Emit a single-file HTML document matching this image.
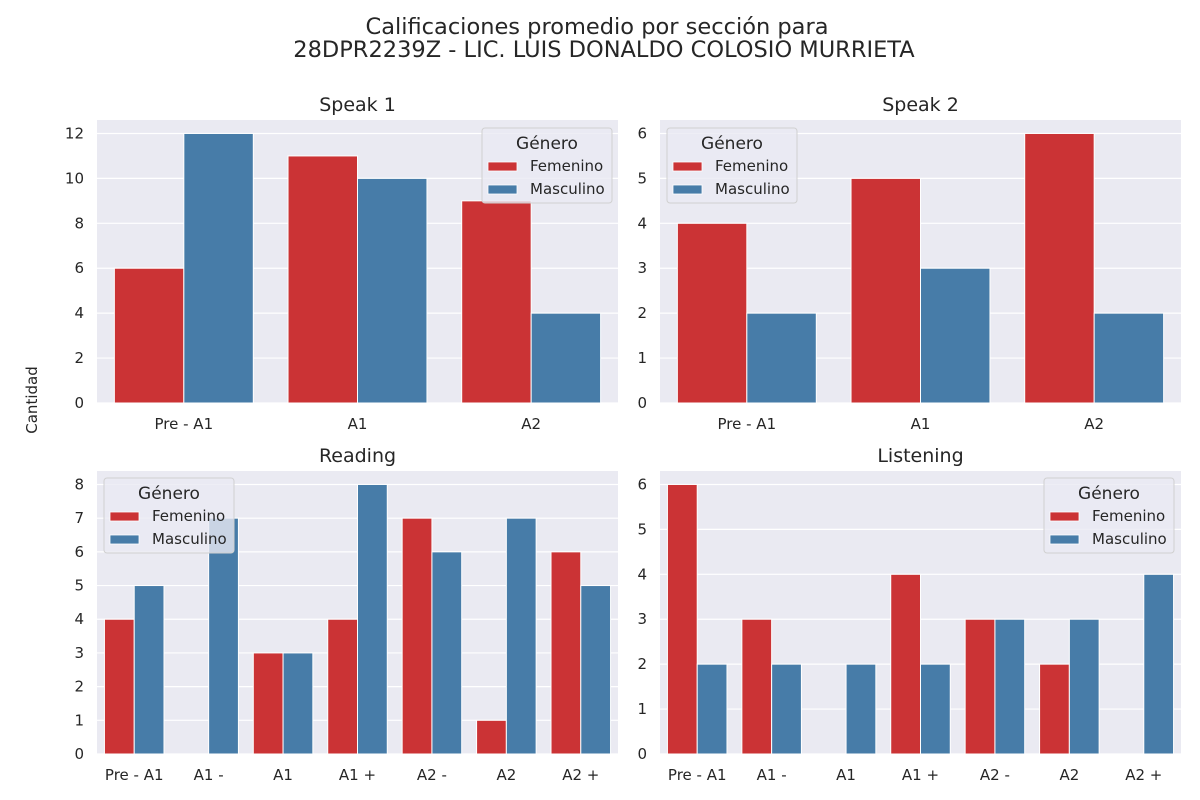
<!DOCTYPE html>
<html><head><meta charset="utf-8"><style>
body{margin:0;background:#fff;}
svg{display:block;font-family:"DejaVu Sans","Liberation Sans",sans-serif;}
</style></head><body>
<svg id="c" width="1200" height="800" viewBox="0 0 1200 800">
<text x="597" y="34" font-size="22.5" text-anchor="middle" fill="#262626">Calificaciones promedio por sección para</text>
<text x="604" y="57" font-size="22.5" text-anchor="middle" fill="#262626">28DPR2239Z - LIC. LUIS DONALDO COLOSIO MURRIETA</text>
<text transform="translate(37,400) rotate(-90)" font-size="15" text-anchor="middle" fill="#262626">Cantidad</text>
</svg>
<script>
const speak1Cats = ["Pre - A1","A1","A2"];
const speak1Fem = [6,11,9];
const speak1Mas = [12,10,4];
const speak1Ticks = [0,2,4,6,8,10,12];
const speak2Cats = ["Pre - A1","A1","A2"];
const speak2Fem = [4,5,6];
const speak2Mas = [2,3,2];
const speak2Ticks = [0,1,2,3,4,5,6];
const readingCats = ["Pre - A1","A1 -","A1","A1 +","A2 -","A2","A2 +"];
const readingFem = [4,0,3,4,7,1,6];
const readingMas = [5,7,3,8,6,7,5];
const readingTicks = [0,1,2,3,4,5,6,7,8];
const listeningCats = ["Pre - A1","A1 -","A1","A1 +","A2 -","A2","A2 +"];
const listeningFem = [6,3,0,4,3,2,0];
const listeningMas = [2,2,2,2,3,3,4];
const listeningTicks = [0,1,2,3,4,5,6];

const svg = document.getElementById('c');
const NS = "http://www.w3.org/2000/svg";
const RED = "#cb3335", BLUE = "#477ca8";
function mk(tag, attrs, parent){const e=document.createElementNS(NS,tag);for(const k in attrs)e.setAttribute(k,attrs[k]);(parent||svg).appendChild(e);return e;}

function panel(name,title,L,R,T,B,cats,fem,mas,ticks,legend){
  const g = mk('g',{});
  
  
  const ymax = Math.max(...fem,...mas)*1.05;
  const y = v => B - v/ymax*(B-T);
  const n = cats.length, cw = (R-L)/n;
  const x = i => L + (i+0.5)*cw;
  const bg = mk('rect',{x:L,y:T,width:R-L,height:B-T,fill:"#eaeaf2"},g);
  
  
  ticks.forEach(t=>{
    mk('line',{x1:L,x2:R,y1:y(t),y2:y(t),stroke:"#fff","stroke-width":1.2},g);
    const tl = mk('text',{x:L-13,y:y(t)+5,"font-size":15,"text-anchor":"end",fill:"#262626"},g);
    tl.textContent = t;
    
    
  });
  const bw = cw*0.4;
  cats.forEach((c,i)=>{
    const cx = x(i);
    const b1 = mk('rect',{x:cx-bw,y:y(fem[i]),width:bw,height:B-y(fem[i]),fill:RED,stroke:"#fff","stroke-width":1},g);
    
    
    const b2 = mk('rect',{x:cx,y:y(mas[i]),width:bw,height:B-y(mas[i]),fill:BLUE,stroke:"#fff","stroke-width":1},g);
    
    
    const tl = mk('text',{x:cx,y:B+26,"font-size":15,"text-anchor":"middle",fill:"#262626"},g);
    tl.textContent = c;
    
    
  });
  const tt = mk('text',{x:(L+R)/2,y:T-9,"font-size":19,"text-anchor":"middle",fill:"#262626"},g);
  tt.textContent = title;
  
  
  if(legend){
    const lx = legend[0], ly = legend[1];
    const lg = mk('g',{},g);
    
    
    mk('rect',{x:lx,y:ly,width:130,height:75,rx:3,fill:"#eaeaf2","fill-opacity":0.8,stroke:"#d0d0d0"},lg);
    const lt = mk('text',{x:lx+65,y:ly+21,"font-size":17,"text-anchor":"middle",fill:"#262626"},lg);
    lt.textContent = "Género";
    [["Femenino",RED],["Masculino",BLUE]].forEach((e,k)=>{
      const ey = ly+34+k*23;
      mk('rect',{x:lx+6,y:ey,width:29,height:9,fill:e[1],stroke:"#fff","stroke-width":0.8},lg);
      const et = mk('text',{x:lx+48,y:ey+9,"font-size":15,fill:"#262626"},lg);
      et.textContent = e[0];
      
      
    });
  }
}
panel('speak1','Speak 1',97,618,120,403,speak1Cats,speak1Fem,speak1Mas,speak1Ticks,[482,128]);
panel('speak2','Speak 2',660,1181,120,403,speak2Cats,speak2Fem,speak2Mas,speak2Ticks,[667,128]);
panel('reading','Reading',97,618,471,754,readingCats,readingFem,readingMas,readingTicks,[104,478]);
panel('listening','Listening',660,1181,471,754,listeningCats,listeningFem,listeningMas,listeningTicks,[1044,478]);
</script>
</body></html>
